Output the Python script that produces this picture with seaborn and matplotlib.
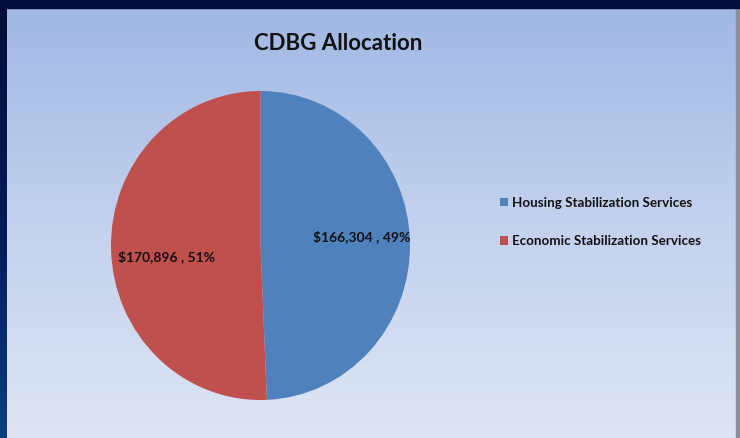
import numpy as np
import matplotlib
matplotlib.use("Agg")
import matplotlib.pyplot as plt
import seaborn as sns
from matplotlib.colors import LinearSegmentedColormap
from matplotlib.patches import Rectangle

# data
categories = ["Housing Stabilization Services", "Economic Stabilization Services"]
amounts = [166304, 170896]
slice_colors = ["#4f81bd", "#c0504d"]
title_text = "CDBG Allocation"

sns.set_theme(style="white")
plt.rcParams['font.family'] = ['Lato', 'DejaVu Sans']

W, H = 740, 438
fig = plt.figure(figsize=(W / 100, H / 100), dpi=100)

# gradient background panel
bg = fig.add_axes([0, 0, 1, 1])
grad = np.linspace(0, 1, 256).reshape(-1, 1)
cmap = LinearSegmentedColormap.from_list("bg", ["#9fb7e3", "#c3d1ee", "#dee5f4"])
bg.imshow(grad, aspect="auto", cmap=cmap, extent=[0, W, H, 0])
# left frame strip: dark navy at top fading to blue at the bottom
edge = LinearSegmentedColormap.from_list("edge", ["#020d3a", "#031a55", "#0b3d80"])
bg.imshow(grad, aspect="auto", cmap=edge, extent=[0, 7, H, 0], zorder=3)
bg.set_xlim(0, W)
bg.set_ylim(H, 0)
bg.axis("off")
bg.add_patch(Rectangle((0, 0), W, 8, color="#020d3a", zorder=4))
bg.add_patch(Rectangle((736, 8), 4, H - 8, color="#8a8f99", zorder=3))

# pie axes placed in pixel terms (slightly taller than wide, as in the reference)
left, right, top, bottom = 111, 410, 91, 400
ax = fig.add_axes([left / W, (H - bottom) / H, (right - left) / W, (bottom - top) / H])
pal = sns.color_palette(slice_colors)
total = sum(amounts)


def fmt(pct):
    val = pct * total / 100
    return "${:,.0f} , {:.0f}%".format(val, pct)


wedges, texts, autotexts = ax.pie(
    amounts, colors=pal, startangle=90, counterclock=False,
    autopct=fmt, pctdistance=0.66,
    wedgeprops=dict(linewidth=0), radius=1,
    textprops=dict(fontsize=10, fontweight="bold", color="#111111"),
)
ax.set_aspect("auto")
ax.set_xlim(-1, 1)
ax.set_ylim(-1, 1)
# nudge labels to where they sit in the reference
autotexts[0].set_position((0.68, 0.06))
autotexts[1].set_position((-0.63, -0.07))

fig.text(338 / W, 1 - 43 / H, title_text, ha="center", va="center",
         fontsize=16, fontweight="bold", color="#111111")

leg = fig.legend(wedges, categories, loc="center left",
                 bbox_to_anchor=(488 / W, 1 - 222 / H), frameon=False,
                 prop=dict(size=9.6, weight="bold"), labelspacing=2.0,
                 handlelength=0.6, handleheight=0.6, handletextpad=0.3)
for t in leg.get_texts():
    t.set_color("#111111")

fig.savefig("out.png", dpi=100)
